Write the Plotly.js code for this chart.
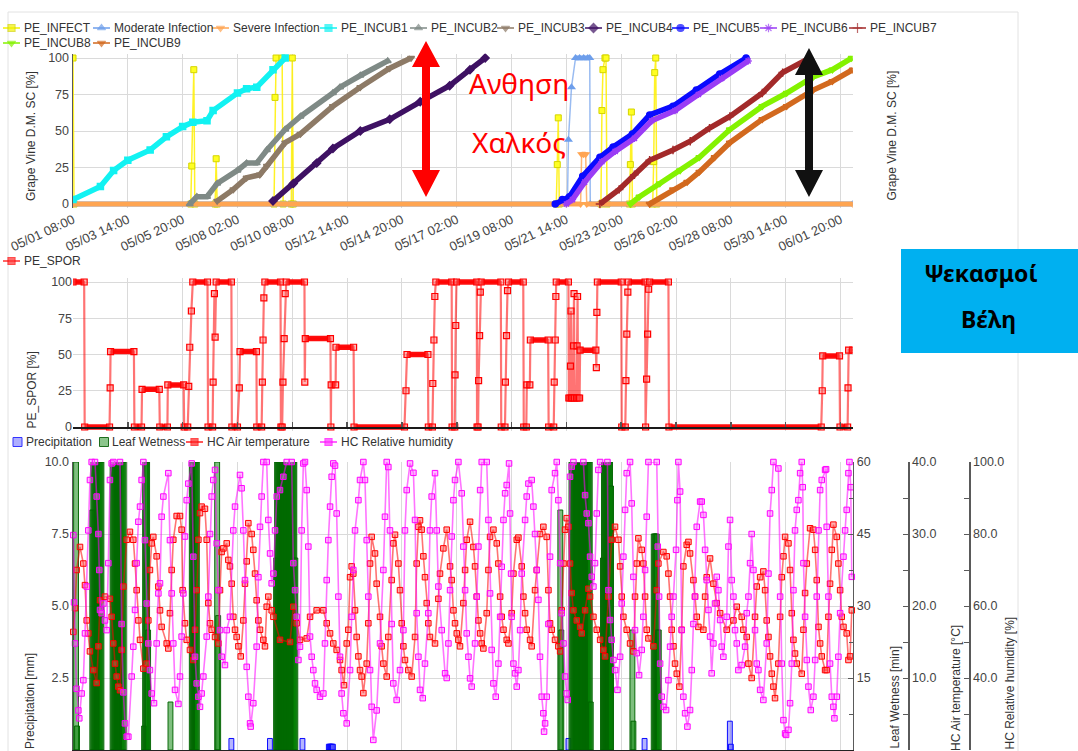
<!DOCTYPE html>
<html>
<head>
<meta charset="utf-8">
<script src="https://cdn.plot.ly/plotly-3.0.1.min.js"></script>
<style>
html,body{margin:0;padding:0;background:#fff;overflow:hidden;}
#chart{width:1078px;height:751px;}
</style>
</head>
<body>
<div id="chart"></div>
<script>
// ---------------- DATA (time = hours after 05/01 08:00) ----------------
const tickHours = [0,54,108,162,216,270,324,378,432,486,540,594,648,702,756];
const tickLabels = ['05/01 08:00','05/03 14:00','05/05 20:00','05/08 02:00','05/10 08:00','05/12 14:00','05/14 20:00','05/17 02:00','05/19 08:00','05/21 14:00','05/23 20:00','05/26 02:00','05/28 08:00','05/30 14:00','06/01 20:00'];

// top panel: Grape Vine D.M. SC [%]
const infectH = [0,1,116,117,119,120,140,141,142,198,199,200,206,207,215,216,217,476,477,478,479,520,521,522,524,525,526,548,549,550,551,571,572,573,574,575];
const infectV = [100,0,0,26,92,0,0,31,0,0,73,100,100,0,0,100,0,0,27,59,0,0,64,92,100,100,0,0,27,63,0,0,29,90,100,0];
const modH = [0,487,488,491,495,499,503,507,509,509.5,768];
const modV = [0,0,44,80,100,100,100,100,100,0,0];
const sevH = [0,500,501,503,505,506,768];
const sevV = [0,0,34,34,34,0,0];
const incub1H = [0,27,40,54,76,92,108,118,132,138,162,171,181,197,209];
const incub1V = [3,12,23,30,37,46,53,56,57,64,76,79,80,92,100];
const incub2H = [115,122,132,142,162,171,181,191,209,224,256,263,283,310];
const incub2V = [0,5,5,14,23,28,28,37,51,60,76,80,88,98];
const incub3H = [142,158,171,184,191,209,224,256,283,312,333];
const incub3V = [2,10,18,20,26,42,48,67,80,93,100];
const incub4H = [197,217,240,256,283,312,342,371,391,406];
const incub4V = [2,14,28,38,50,58,70,81,92,100];
const incub5H = [475,482,489,502,519,532,551,568,591,614,637,663];
const incub5V = [0,3,5,19,32,39,48,61,67,78,89,100];
const incub6H = [486,492,504,521,534,553,570,593,616,639,665];
const incub6V = [0,3,15,29,36,45,57,64,75,86,98];
const incub7H = [519,538,553,568,591,608,627,647,679,699,723];
const incub7V = [0,10,20,30,37,43,52,60,76,90,99];
const incub8H = [549,558,578,598,617,647,679,703,729,748,767];
const incub8V = [0,5,14,23,32,51,67,76,87,92,100];
const incub9H = [568,591,605,617,632,647,679,703,729,748,768];
const incub9V = [0,10,15,22,32,42,58,67,78,84,92];

// middle panel: PE_SPOR [%]
const sporH = [0,11,11.5,36,36.6,37,60,60.5,67.5,68,85,85.5,93,93.4,109,109.5,113,114,115,116.6,118,132.5,133,137.5,138,139.3,140,141,156,156.5,162,163.8,164.5,180.7,181,185.8,186.5,187.2,188,189,204.4,204.8,206,206.8,208,209,210,228,228.3,228.8,253.6,254,254.3,258.7,259,276.4,276.8,326.5,328,329,349.6,350,354,354.4,355.5,356.4,357.4,373,373.4,376,376.3,377,377.7,397.7,398,399,399.5,400.5,401.2,402,421.4,421.8,425.5,425.9,427,428,429,443.5,444,446.5,447,450,450.5,468,468.5,473.5,474,475,475.6,476,488,488.4,489.5,490,490.5,491,492.5,493,493.5,494,496,496.5,497,497.5,499,499.5,515,515.5,516,516.5,540,540.5,544,544.6,545.5,546.5,547,563.5,564,565,566,567,568,586.5,587,737,738,738.5,755,755.5,763,763.4,764,768];
const sporV = [100,100,0,0,27,52,52,0,0,26,26,0,0,29,29,0,0,28,55,80,100,100,0,0,31,92,62,100,100,0,0,27,52,52,0,0,31,60,89,100,100,0,0,31,61,92,100,100,31,61,61,0,29,29,55,55,0,0,25,50,50,0,0,30,60,90,100,100,0,0,36,70,100,100,0,0,32,63,93,100,100,0,0,31,63,94,100,100,0,0,29,29,60,60,0,0,31,60,90,100,100,20,20,42,80,20,20,56,92,20,20,56,90,20,20,53,53,41,79,100,100,0,0,32,64,93,100,100,0,33,64,95,100,100,0,0,25,49,49,0,0,27,53,53];

// bottom panel
const precipH = [156,194,226,252,253,254,255,256,488,563,647,648];
const precipV = [0.4,0.4,0.4,0.2,0.2,0.2,0.2,0.2,0.4,0.4,1.0,0.2];
// leaf wetness: hourly readings, given as runs starting at lwStart
const lwStart = [3,19,39,70,96,117,142,200,480,491,522,551,572];
const lwRuns = [
  [60,5],
  [50,60,60,60,60,60,60,60,60,60],
  [60,60,60,60,60,60,60,60,60,60,60,60],
  [5,60,60,60,25],
  [10],
  [60,60,60,60,60,60],
  [60,28],
  [40,60,60,60,60,60,60,60,60,60,60,60,60,60,60,60,60,60,60,40],
  [50,25],
  [60,60,60,60,60,60,60,60,60,60,60,60,60,60,60,60,60,60,60,10],
  [40,60,60,60,60,60,60,60,55],
  [25,6],
  [45,45,45,45,25,25]
];
const tempH = [0.3,2,3.6,6.9,10.2,11.8,13.5,15.1,16.7,20,23.3,25,26.6,31.5,36.4,38.1,39.7,41.4,43,44.7,46.3,47.9,49.6,52.9,56.1,59.4,61.1,62.7,64.4,66,69.3,72.6,74.2,75.8,77.5,79.1,82.4,84.1,85.7,87.3,92.3,93.9,95.5,97.2,98.8,102.1,105.4,107,108,110.3,112,115.2,118.5,120.2,121.8,123.5,125.1,126.7,130,131.7,133.3,135,136.6,139.9,143.2,144.8,146.4,148.1,151.4,153,154.6,156.3,157.9,159.6,161.2,162.9,165.2,167.8,169.4,171.1,172.7,176,177.6,179.3,180.9,182.6,184.2,187.5,189.1,190.8,192.4,195.7,197.4,203.9,213.8,217,220.3,223.6,230.2,233.5,240,246.6,249.9,253.2,256.4,259.7,263,264.6,266.9,269.6,271.2,272.9,274.5,276.1,277.8,279.4,281.1,282.7,284.3,286,289.3,290.9,292.6,294.2,297.5,299.1,302.4,304,305.7,309,310.6,313.9,315.5,317.2,320.5,322.1,323.8,325.4,327,330.3,333.6,336.9,338.5,340.2,341.8,343.4,345.1,346.7,348.4,350,351.6,356.6,359.9,361.5,364.8,368.1,371.4,373,374.7,376.3,378,379.6,381.2,384.5,386.2,387.8,391.1,394.4,396,397.7,399.3,401,402.6,404.2,407.5,409.2,410.8,414.1,417.4,419,420.7,422.3,424,427.2,428.9,432.1,433.8,437.1,438.7,442,443.6,445.3,446.9,450.2,451.8,455.1,456.8,460,463.3,466.6,468.3,469.9,471.5,474.8,478.1,479.8,481.4,483.1,484.7,486.3,488,489.6,491.2,492.9,496.2,499.5,501.1,504.4,507.7,509.3,512.6,515.9,519.2,522.4,524.1,527.4,530.6,533.9,537.2,538.9,540.5,542.1,545.4,548.7,552,553.6,555.3,556.9,560.2,561.8,563.5,565.1,566.8,571.7,575,576.6,581.5,584.8,586.5,588.1,589.7,591.4,593,594.7,597.3,599.6,601.2,604.5,606.2,607.8,611.1,612.7,614.4,616,620.9,622.6,624.2,627.5,630.8,634.1,637.4,643.9,650.5,653.8,658.7,660.3,663.6,665.3,668.5,671.8,673.5,676.8,680,681.7,683.3,685,686.6,688.3,689.9,691.5,694.8,696.5,698.1,699.8,701.4,704.7,706.3,708,709.6,711.2,712.9,717.8,719.5,721.1,722.8,726,729.3,731,732.6,734.3,735.9,737.5,740.8,742.4,744.1,745.7,747.4,749,752.3,753.9,755.6,757.2,758.9,762.1,763.8,765.4,767.1];
const tempV = [16.4,19.7,25,28.2,25.9,22.9,18,16.2,13.7,11.1,9.3,14.4,20.8,21.3,21,18.5,14.8,12,10.2,8.8,8.3,13.9,22.7,29.2,30.3,29.2,25.9,22.2,18,15.3,11.3,12,18,25,28.7,29.6,26.9,22.7,19.4,17.1,14.8,14.1,19,25,29.2,32.5,32.5,30.6,22.2,17.6,15.3,13.9,12.5,16.7,22.2,29.2,32.9,33.8,33.5,29.2,20.4,17.6,16.7,15.7,14.8,22.2,27.5,28,28.7,26.4,25.5,23.1,18.5,16.7,15.7,14.4,13,18,23.1,26.2,31.5,30,27.8,24.5,20.8,18,16.7,15.3,14.4,19.9,21.3,19.4,18.5,15.3,15,19.9,17.6,15.3,15.5,18.5,19.4,19.4,17.6,16.2,14.8,13.9,12.5,11.1,9,14.8,16.7,24,25.5,24.5,19.4,15.7,13,11.1,10.2,7.9,12,17.6,25.9,29.6,27.3,23.1,18.5,14.4,12,10.2,15.7,23.6,28.7,29.9,25.9,22.2,17.6,14.4,12.5,11.1,10.2,15.7,25.9,31,31.9,30.6,26.9,24,20.4,17.6,15.7,14.8,21,24.5,28,30.6,25.5,23.6,19.4,17.6,16.2,15.3,14.4,20.4,25,29.2,31.7,28.2,25.5,21.3,18,16.2,14.8,14.1,19,25,29.6,30.6,28.7,25.9,21.3,18.5,16.7,15.3,14.8,19,24.5,29.2,29.5,25.5,21.3,19,16.7,15.3,14.4,22.2,25,30,31,29.6,22.2,17.6,16.7,15.3,14.4,13.7,19.4,25.9,30.6,32.2,31,25.9,21.8,19.4,18,17.1,16.2,19.4,22.4,21.3,18.5,16.7,15.3,13.9,13,21.3,29.2,31,29.2,25.5,21.3,18.5,16.7,14.8,13.7,21.3,25.9,29.4,27.8,25.9,21.3,16.7,15.5,14.4,22.2,25.9,27.5,26.9,24.5,21.3,16.7,14.4,12,10.6,8.8,16.7,25.5,28.5,28.9,27.3,23.6,21.3,18.5,17.1,16.7,21.3,24,26.6,23.1,20.4,19,16.7,18,19.9,18.5,16.7,15.7,12,10,18.5,22.7,24,24.8,22.2,18,15.7,13,10.6,8.8,7.2,12,18.5,24,26.9,29.6,28.7,25,19,15.3,13.4,12,10.6,16.7,21.8,25.9,30.8,30.6,27.8,23.6,17.1,14.8,13,11.1,11.1,18.5,23.1,27.8,31.3,29.6,25.9,22.2,18.5,17.1,16.2,12.5,13,19.4];
const rhH = [0.3,1,2,3.6,5.3,6.2,8.5,10.2,11.8,13.5,15.1,16.7,18.4,21.7,23.3,25,25.9,26.6,28.2,29.9,31.5,33.2,34.8,36.4,38.1,39.7,46.3,47.9,49.6,51.2,52.9,54.5,57.8,59.4,61.1,62.7,64.4,66,67.6,69.3,70.9,72.6,74.2,75.8,77.5,79.8,82.4,84.1,85.7,87.3,89,93.9,95.5,97.2,98.8,100.5,103.8,105.4,107,108.7,110.3,112,113.6,116.9,118.5,120.2,121.8,123.5,125.1,126.7,128.4,131.7,133.3,135,136.6,138.2,139.9,141.5,143.2,144.8,146.4,149.7,151.4,154.6,157.9,159.6,164.5,166.1,167.8,169.4,171.1,172.7,174.4,175,177.6,180.9,182.6,184.2,185.8,187.5,190.8,192.4,194.1,195.7,197.4,199,200.7,203.9,207.2,210.5,215.4,217,218.7,220.3,222,223.6,225.2,226.9,228.5,230.2,231.8,233.5,235.1,236.7,238.4,240,243.3,246.6,248.2,249.9,251.5,253.2,254.8,256.4,258.1,259.7,261.4,263,264.6,266.3,269.6,272.9,274.5,276.1,277.8,281.1,282.7,286,287.6,289.3,290.9,292.6,294.2,295.8,299.1,302.4,305.7,307.3,309,310.6,312.2,313.9,315.5,318.8,322.1,325.4,327,328.7,332,335.3,336.9,338.5,340.2,341.8,344.5,346.7,350,351.6,353.3,356.6,358.3,359.9,363.2,366.5,368.1,369.8,371.4,373,374.7,376.3,379.6,382.9,384.5,386.2,387.8,389.5,391.1,392.7,396,397.7,399.3,401,402.6,407.5,409.2,410.8,412.4,414.1,416.4,419,420.7,422.3,424,425.6,427.2,429.5,430.5,431.5,432.1,433.8,435.4,437.1,438.7,440.4,442,445.3,446.9,448.6,451.8,453.5,455.1,456.8,458.4,460,461.7,463.3,464,465,466.6,468.3,469.9,471.5,474.8,476.5,478.1,479.8,481.4,483.1,484.7,486.3,487.3,489.6,491.2,492.9,502.7,504.4,506,507.7,509.3,511,512.6,514.2,515.9,517.5,519.2,526.4,527.4,529,530.6,532.3,534,536.3,538.9,540.5,542.1,543.8,545.4,548.7,550.3,552,553.6,555.3,557.6,560.2,561.8,563.5,565.1,566.8,575,576,577.3,578.3,579.9,581.5,584.2,586.5,588.1,589.7,591.4,594,595.3,596.3,598,599.6,601.2,602.9,605.2,607.8,609.5,611.1,612.7,614.4,617.7,619.3,621,622.6,624.2,625.9,627.5,629.1,630.8,632.4,634.1,635.7,637.4,639,640.6,643.9,645.6,647.2,648.8,650.5,652.1,653.8,655.4,658.7,662,663.6,665.3,666.9,668.5,670.2,671.8,673.5,675.1,676.8,680,683.3,685,686.6,688.3,689.9,694.8,696.5,698.1,699.8,701.4,702.4,704.7,706.3,708,709.6,711.2,712.9,714.5,716.2,717.8,718.8,719.5,721.1,722.8,724.4,726.7,729.3,731,732.6,734.3,735.9,737.5,740.8,741.8,742.4,744.1,745.7,747.4,749,750,752.3,753.9,755.6,758.9,760.5,762.1,763.8,764.8,766.1,767.1];
const rhV = [79.7,61,49.6,37,31,28.8,35.7,39.4,52.4,65.4,81,95,100,100,90.4,80,70,58.9,58,60.7,56,53.3,71.9,95,99.6,100,100,55,36,27.4,23.7,23.7,40.4,48.7,58.9,71.9,83.4,87.6,95,100,78.3,60.7,49.6,42.2,35.7,33,49.6,63.5,66.3,84.8,90.4,96.9,78.3,63.5,49.6,36.7,32.8,40.4,51.5,63.5,79.3,89.4,94,99.6,73.7,45.9,38.5,34.8,32,35.7,40.4,51.5,62.6,80,90.4,95,97.8,77.4,64.4,53.3,45.9,43.6,53.3,57,81,87.6,96.4,92.7,81,67.2,43.1,34.8,27.4,26.5,33,48.7,68,82,90.4,100,100,83.9,74.6,66.3,69,81,90.4,92.2,95.9,100,100,71.9,64.4,57,45,48.7,81,99.6,100,92.2,76.5,51.5,45.9,42.2,38.5,36.7,34.8,35.7,49.6,67.2,78.3,87.6,95.9,99.6,99,85.7,62.6,45.9,35.7,30.2,27.4,42.2,57,70,81,89.4,95,100,95,78.3,62.6,42.2,32,22.8,31,49.6,70,84.8,100,98.6,81,55,38.5,33.9,42.2,53.3,81,92.2,99.6,97,83.9,58,45.9,36.7,34.4,44,58,81,90.4,96.9,81,65.4,53.3,41.3,40,49.6,64.4,79.3,89.4,95,100,91.3,76.5,64.4,52.4,45.9,39.9,37.6,49.6,62.6,76.5,92.2,100,100,83.9,63.5,47.8,38.5,34.8,44,57,70.9,83.9,91.3,93.6,99.6,85.7,69,57,44,41.3,37.6,42.2,53.3,69,83.9,90.4,94,95,87.6,80,70,61.7,45.9,34.8,30.2,25.1,27.4,34.8,55,73.7,92.2,96.9,100,89.4,71.9,58,49.6,40.4,35.7,33.9,95.9,98.7,100,100,90.8,85.7,83,73.7,68.1,65.4,71.9,85.7,97.8,100,100,64.4,56.1,50.6,45,42.2,36.7,45.9,60.7,73.7,86.7,96.9,100,88.5,68.1,53.3,46.9,40.8,47.8,57,70,84.8,100,100,76.5,62.6,44,34.8,32,31.1,39.4,48.7,57,62.6,75.6,89.4,100,91.8,53.3,34.8,30.2,26.5,31.1,42.2,55,62.6,82,89,89,85.3,75.6,67.2,58.9,51.5,41.3,49.6,60.7,68.1,64.4,56.1,48.7,45.9,57,76.5,83.9,67.2,62.6,53.3,49.6,42.2,43.6,48.7,58,62.6,71.9,80,70,53.3,44,42.2,36.7,33.9,49.6,69,85.7,92.2,100,98.2,62.6,44,28.3,24.6,24.2,25.6,33,44,64.4,81,86.7,89.4,96.9,100,93,71.9,57,45,37.6,31.1,34.8,45,62.6,81,92.2,95,97.8,98,82,62.6,44,34.8,32,28.8,34.8,45.9,58,73.7,81,86.7,96.9,100,93,68.1];

// ---------------- GEOMETRY / STYLE ----------------
const W = 1078, H = 751;
const fx = p => p / W, fy = p => 1 - p / H;
const P = (x, y) => fx(x).toFixed(5) + ',' + fy(y).toFixed(5);
const HMAX = 768;
const xDom = [fx(73), fx(852.7)];
const TOP0 = 204, TOP100 = 58, tS = (TOP0 - TOP100) / 100;
const topDom = [fy(TOP0 + 3 * tS), fy(TOP100 - 3 * tS)];
const MID0 = 427, MID100 = 282, mS = (MID0 - MID100) / 100;
const midDom = [fy(MID0 + 3 * mS), fy(MID100 - 3 * mS)];
const botDom = [fy(750), fy(462)];
const FONT = 'Liberation Sans, Arial, Helvetica, sans-serif';
const GRID = '#dadada', AXC = '#5a5a5a', TXT = '#444';

const C = {
  infect: '#ffff22', mod: '#6d9eeb', sev: '#ffa552', inc1: '#12f2f2', inc2: '#7f8a86',
  inc3: '#8d7a66', inc4: '#3e1163', inc5: '#0a0aff', inc6: '#9a3cf5', inc7: '#a32a2a',
  inc8: '#84f200', inc9: '#d2691e'
};

function plateaus(h, v) {
  const x = [], y = [];
  for (let i = 0; i < h.length - 1; i++) {
    if (v[i] === v[i + 1]) { x.push(h[i], h[i + 1], null); y.push(v[i], v[i + 1], null); }
  }
  return { x, y };
}

const traces = [];
const base = { type: 'scatter', hoverinfo: 'skip', showlegend: false };

// ---- top panel
traces.push(Object.assign({}, base, { x: infectH, y: infectV, xaxis: 'x', yaxis: 'y', mode: 'lines+markers',
  line: { color: 'rgba(255,240,0,0.85)', width: 1.5 }, marker: { symbol: 'square', size: 6, color: C.infect, line: { color: '#d4d400', width: 1 } } }));
const modP = plateaus(modH, modV);
traces.push(Object.assign({}, base, { x: modP.x, y: modP.y, xaxis: 'x', yaxis: 'y', mode: 'lines', line: { color: C.mod, width: 5 } }));
traces.push(Object.assign({}, base, { x: modH, y: modV, xaxis: 'x', yaxis: 'y', mode: 'lines+markers',
  line: { color: 'rgba(109,158,235,0.7)', width: 1.5 }, marker: { symbol: 'triangle-up', size: 8, color: C.mod } }));
const sevP = plateaus(sevH, sevV);
traces.push(Object.assign({}, base, { x: sevP.x, y: sevP.y, xaxis: 'x', yaxis: 'y', mode: 'lines', line: { color: C.sev, width: 5 } }));
traces.push(Object.assign({}, base, { x: sevH, y: sevV, xaxis: 'x', yaxis: 'y', mode: 'lines+markers',
  line: { color: 'rgba(255,165,82,0.8)', width: 1.5 }, marker: { symbol: 'triangle-down', size: 8, color: C.sev } }));

const incubs = [
  [incub1H, incub1V, C.inc1, 'square'], [incub2H, incub2V, C.inc2, 'triangle-up'], [incub3H, incub3V, C.inc3, 'triangle-down'],
  [incub4H, incub4V, C.inc4, 'diamond'], [incub5H, incub5V, C.inc5, 'circle'], [incub6H, incub6V, C.inc6, 'asterisk-open'],
  [incub7H, incub7V, C.inc7, 'cross-thin-open'], [incub8H, incub8V, C.inc8, 'triangle-down'], [incub9H, incub9V, C.inc9, 'triangle-down']
];
incubs.forEach(s => traces.push(Object.assign({}, base, { x: s[0], y: s[1], xaxis: 'x', yaxis: 'y', mode: 'lines+markers',
  line: { color: s[2], width: 5.5 }, marker: { symbol: s[3], size: 6, color: s[2], line: { color: s[2], width: 1.5 } } })));

// ---- middle panel
const sporP = plateaus(sporH, sporV);
traces.push(Object.assign({}, base, { x: sporP.x, y: sporP.y, xaxis: 'x2', yaxis: 'y3', mode: 'lines', line: { color: 'rgba(255,0,0,0.95)', width: 5.5 } }));
traces.push(Object.assign({}, base, { x: sporH, y: sporV, xaxis: 'x2', yaxis: 'y3', mode: 'lines+markers',
  line: { color: 'rgba(255,0,0,0.55)', width: 2.2 }, marker: { symbol: 'square', size: 6, color: 'rgba(255,90,90,0.45)', line: { color: '#ff0000', width: 1.2 } } }));

// ---- bottom panel
traces.push({ type: 'bar', hoverinfo: 'skip', showlegend: false, x: precipH, y: precipV, width: 4.8, xaxis: 'x3', yaxis: 'y4',
  marker: { color: 'rgba(90,90,255,0.45)', line: { color: 'rgba(0,0,255,0.95)', width: 1 } } });
const lwH = [], lwV = [];
lwStart.forEach((s, k) => lwRuns[k].forEach((v, i) => { lwH.push(s + i); lwV.push(v); }));
traces.push({ type: 'bar', hoverinfo: 'skip', showlegend: false, x: lwH, y: lwV, width: 4.8, xaxis: 'x3', yaxis: 'y5',
  marker: { color: 'rgba(0,128,0,0.5)', line: { color: 'rgba(0,100,0,0.95)', width: 1 } } });
traces.push(Object.assign({}, base, { x: tempH, y: tempV, xaxis: 'x3', yaxis: 'y6', mode: 'lines+markers', cliponaxis: false,
  line: { color: 'rgba(255,0,0,0.55)', width: 1.6 }, marker: { symbol: 'square', size: 5.5, color: 'rgba(255,80,80,0.45)', line: { color: '#ff0000', width: 1 } } }));
traces.push(Object.assign({}, base, { x: rhH, y: rhV, xaxis: 'x3', yaxis: 'y7', mode: 'lines+markers', cliponaxis: false,
  line: { color: 'rgba(255,0,255,0.55)', width: 1.6 }, marker: { symbol: 'square', size: 5.5, color: 'rgba(255,110,255,0.45)', line: { color: '#ff00ff', width: 1 } } }));

// ---- legends (glyphs drawn on a pixel-space overlay axis)
const annotations = [];
function legendItem(tx, ty, name, color, symbol, edge, lineW) {
  traces.push(Object.assign({}, base, { x: [tx - 19, tx - 10.5, tx - 2], y: [ty, ty, ty], xaxis: 'x9', yaxis: 'y9', mode: 'lines+markers',
    line: { color: color, width: lineW === undefined ? 1.5 : lineW }, marker: { symbol: symbol, size: [0, 7, 0], color: color, line: { color: edge || color, width: 1.2 } } }));
  annotations.push({ xref: 'paper', yref: 'paper', x: fx(tx), y: fy(ty), xanchor: 'left', yanchor: 'middle', showarrow: false,
    text: name, font: { family: FONT, size: 12, color: '#333' } });
}
function legendBox(bx, tx, ty, name, fill, edge) {
  traces.push(Object.assign({}, base, { x: [bx], y: [ty], xaxis: 'x9', yaxis: 'y9', mode: 'markers',
    marker: { symbol: 'square', size: 9, color: fill, line: { color: edge, width: 1 } } }));
  annotations.push({ xref: 'paper', yref: 'paper', x: fx(tx), y: fy(ty), xanchor: 'left', yanchor: 'middle', showarrow: false,
    text: name, font: { family: FONT, size: 12, color: '#333' } });
}
const R1 = 28, R2 = 43;
legendItem(22, R1, 'PE_INFECT', '#f2f200', 'square', '#d4d400');
legendItem(112, R1, 'Moderate Infection', C.mod, 'triangle-up');
legendItem(231, R1, 'Severe Infection', C.sev, 'triangle-down');
legendItem(339, R1, 'PE_INCUB1', C.inc1, 'square');
legendItem(429, R1, 'PE_INCUB2', C.inc2, 'triangle-up');
legendItem(516, R1, 'PE_INCUB3', C.inc3, 'triangle-down');
legendItem(604, R1, 'PE_INCUB4', C.inc4, 'diamond');
legendItem(691, R1, 'PE_INCUB5', C.inc5, 'circle');
legendItem(779, R1, 'PE_INCUB6', C.inc6, 'asterisk-open');
legendItem(868, R1, 'PE_INCUB7', C.inc7, 'cross-thin-open');
legendItem(22, R2, 'PE_INCUB8', C.inc8, 'triangle-down');
legendItem(112, R2, 'PE_INCUB9', C.inc9, 'triangle-down');
legendItem(22, 261, 'PE_SPOR', '#ff3030', 'square', '#ff0000');
legendBox(17.5, 24, 442, 'Precipitation', 'rgba(120,120,255,0.6)', '#3333ff');
legendBox(104, 110, 442, 'Leaf Wetness', 'rgba(0,128,0,0.45)', '#1e6e1e');
legendItem(205, 442, 'HC Air temperature', '#ff2020', 'square', '#ff0000');
legendItem(339, 442, 'HC Relative humidity', '#ff30ff', 'square', '#ff00ff');

// ---- axis titles (anchored at the bottom of each axis)
function vTitle(x, yb, text) {
  annotations.push({ xref: 'paper', yref: 'paper', x: fx(x), y: fy(yb), xanchor: 'center', yanchor: 'bottom', textangle: -90,
    showarrow: false, text: text, font: { family: FONT, size: 12, color: '#333' } });
}
vTitle(31, 203, 'Grape Vine D.M. SC [%]');
vTitle(891.5, 203, 'Grape Vine D.M. SC [%]');
vTitle(31, 431, 'PE_SPOR [%]');
vTitle(30, 751, 'Precipitation [mm]');
vTitle(894, 751, 'Leaf Wetness [min]');
vTitle(956, 753, 'HC Air temperature [°C]');
vTitle(1009, 752, 'HC Relative humidity [%]');

// ---- free text annotations
const GREEK = 'Noto Sans, Open Sans, DejaVu Sans, sans-serif';
annotations.push({ xref: 'paper', yref: 'paper', x: fx(519), y: fy(83), xanchor: 'center', yanchor: 'middle', showarrow: false,
  text: 'Ανθηση', font: { family: GREEK, size: 28, color: '#ff0000' } });
annotations.push({ xref: 'paper', yref: 'paper', x: fx(519), y: fy(142), xanchor: 'center', yanchor: 'middle', showarrow: false,
  text: 'Χαλκός', font: { family: GREEK, size: 28, color: '#ff0000' } });
annotations.push({ xref: 'paper', yref: 'paper', x: fx(981), y: fy(273), xanchor: 'center', yanchor: 'middle', showarrow: false,
  text: '<b>Ψεκασμοί</b>', font: { family: GREEK, size: 23, color: '#000' } });
annotations.push({ xref: 'paper', yref: 'paper', x: fx(988), y: fy(319), xanchor: 'center', yanchor: 'middle', showarrow: false,
  text: '<b>Βέλη</b>', font: { family: GREEK, size: 23, color: '#000' } });

// ---- shapes
function vArrow(cx, tipT, baseT, baseB, tipB, hh, hs) {
  return 'M' + P(cx, tipT) + ' L' + P(cx + hh, baseT) + ' L' + P(cx + hs, baseT) + ' L' + P(cx + hs, baseB) + ' L' + P(cx + hh, baseB) +
    ' L' + P(cx, tipB) + ' L' + P(cx - hh, baseB) + ' L' + P(cx - hs, baseB) + ' L' + P(cx - hs, baseT) + ' L' + P(cx - hh, baseT) + ' Z';
}
const shapes = [
  { type: 'rect', xref: 'paper', yref: 'paper', x0: fx(8), x1: fx(1018), y0: fy(770), y1: fy(12), line: { color: '#e2e2e2', width: 1 }, layer: 'below' },
  { type: 'path', xref: 'paper', yref: 'paper', path: vArrow(426, 41, 67, 170, 197, 14, 4), fillcolor: '#ff0000', line: { width: 0 } },
  { type: 'path', xref: 'paper', yref: 'paper', path: vArrow(809, 48, 75, 170, 197, 14, 4), fillcolor: '#111111', line: { width: 0 } },
  { type: 'rect', xref: 'paper', yref: 'paper', x0: fx(901), x1: fx(1079), y0: fy(353), y1: fy(249), fillcolor: '#00b0f0', line: { width: 0 } }
];

const tickFont = { family: FONT, size: 12.5, color: TXT };
const layout = {
  width: W, height: H, margin: { l: 0, r: 0, t: 0, b: 0, pad: 0 },
  paper_bgcolor: '#ffffff', plot_bgcolor: 'rgba(0,0,0,0)', showlegend: false, barmode: 'overlay',
  font: { family: FONT, size: 12, color: TXT },
  xaxis: { domain: xDom, range: [0, HMAX], anchor: 'free', position: fy(TOP0), tickmode: 'array', tickvals: tickHours, ticktext: tickLabels,
    tickangle: -25, showgrid: true, gridcolor: GRID, zeroline: false, showline: false, ticks: '', ticklabelstandoff: 5,
    tickfont: { family: FONT, size: 13, color: TXT } },
  yaxis: { domain: topDom, anchor: 'x', range: [-3, 103], tick0: 0, dtick: 25, showgrid: true, gridcolor: GRID, zeroline: false,
    showline: true, linecolor: AXC, linewidth: 1.5, ticks: '', tickfont: tickFont },
  yaxis2: { overlaying: 'y', side: 'right', anchor: 'x', range: [-3, 103], tick0: 0, dtick: 25, showgrid: false, zeroline: false,
    showline: true, linecolor: AXC, linewidth: 1.5, ticks: 'inside', ticklen: 5, tickcolor: AXC, tickfont: tickFont,
    minor: { dtick: 12.5, tick0: 0, ticks: 'inside', ticklen: 4, tickcolor: AXC } },
  xaxis2: { domain: xDom, range: [0, HMAX], anchor: 'free', position: fy(MID0), tickmode: 'array', tickvals: tickHours, showticklabels: false,
    showgrid: true, gridcolor: GRID, zeroline: false, showline: true, linecolor: '#1a1a1a', linewidth: 1.5, ticks: 'inside', ticklen: 5, tickcolor: '#555', tickwidth: 1.5 },
  yaxis3: { domain: midDom, anchor: 'x2', range: [-3, 103], tick0: 0, dtick: 25, showgrid: true, gridcolor: GRID, zeroline: false,
    showline: false, ticks: '', tickfont: tickFont },
  xaxis3: { domain: xDom, range: [0, HMAX], anchor: 'y4', tickmode: 'array', tickvals: tickHours, showticklabels: false,
    showgrid: true, gridcolor: GRID, zeroline: false, showline: true, linecolor: '#222', linewidth: 1.5, ticks: '' },
  yaxis4: { domain: botDom, anchor: 'x3', range: [0, 10], tick0: 0, dtick: 2.5, tickformat: '.1f', showgrid: true, gridcolor: GRID,
    zeroline: false, showline: true, linecolor: AXC, linewidth: 1.5, ticks: '', tickfont: tickFont },
  yaxis5: { overlaying: 'y4', side: 'right', anchor: 'x3', range: [0, 60], tick0: 0, dtick: 15, showgrid: false, zeroline: false,
    showline: true, linecolor: AXC, linewidth: 1.5, ticks: 'inside', ticklen: 5, tickcolor: AXC, tickfont: tickFont,
    minor: { dtick: 7.5, tick0: 0, ticks: 'inside', ticklen: 4, tickcolor: AXC } },
  yaxis6: { overlaying: 'y4', side: 'right', anchor: 'free', position: fx(908), range: [0, 40], tick0: 0, dtick: 10, tickformat: '.1f',
    showgrid: false, zeroline: false, showline: true, linecolor: AXC, linewidth: 1.5, ticks: 'inside', ticklen: 5, tickcolor: AXC, tickfont: tickFont,
    minor: { dtick: 5, tick0: 0, ticks: 'inside', ticklen: 5, tickcolor: AXC } },
  yaxis7: { overlaying: 'y4', side: 'right', anchor: 'free', position: fx(969), range: [20, 100], tick0: 20, dtick: 20, tickformat: '.1f',
    showgrid: false, zeroline: false, showline: true, linecolor: AXC, linewidth: 1.5, ticks: 'inside', ticklen: 5, tickcolor: AXC, tickfont: tickFont,
    minor: { dtick: 10, tick0: 20, ticks: 'inside', ticklen: 5, tickcolor: AXC } },
  xaxis9: { domain: [0, 1], range: [0, W], anchor: 'y9', visible: false, fixedrange: true },
  yaxis9: { domain: [0, 1], range: [H, 0], anchor: 'x9', visible: false, fixedrange: true },
  annotations: annotations,
  shapes: shapes
};

Plotly.newPlot('chart', traces, layout, { staticPlot: true, displayModeBar: false });
</script>
</body>
</html>
